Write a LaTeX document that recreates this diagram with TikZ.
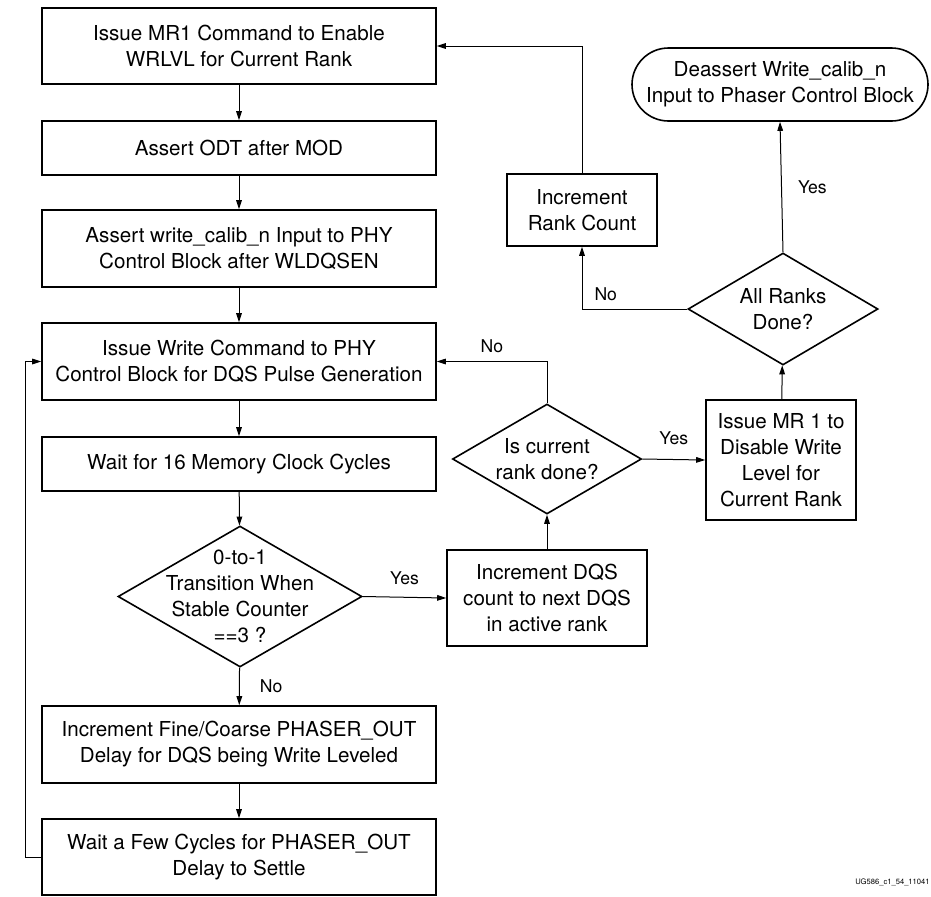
\documentclass[tikz,border=0pt]{standalone}
\usepackage{fontspec}
\setmainfont{TeX Gyre Heros}
\usetikzlibrary{shapes.geometric, arrows.meta}

\begin{document}
\begin{tikzpicture}[x=0.5pt, y=-0.5pt,
    txt/.style={align=center, font=\fontsize{10.3}{13}\selectfont},
    box/.style={draw=black, line width=0.8pt, inner sep=0pt, txt},
    wide/.style={box, minimum width=197pt},
    decision/.style={draw=black, line width=0.8pt, diamond, inner sep=0pt},
    flow/.style={-{Triangle[length=4.5pt, width=2.8pt]}, line width=0.5pt},
    answer/.style={font=\fontsize{8.8}{10}\selectfont, inner sep=2pt}]
    % Units: 1 = one pixel of the 931 x 896 figure, y grows downwards
    \useasboundingbox (0,0) rectangle (931,896);

    % Main column of steps
    \node[wide, minimum height=38pt] (enable) at (239,46) {Issue MR1 Command to Enable\\WRLVL for Current Rank};
    \node[wide, minimum height=27pt] (odt) at (239,148) {Assert ODT after MOD};
    \node[wide, minimum height=38.5pt] (calib) at (239,248.5) {Assert write\_calib\_n Input to PHY\\Control Block after WLDQSEN};
    \node[wide, minimum height=38.5pt] (write) at (239,361.5) {Issue Write Command to PHY\\Control Block for DQS Pulse Generation};
    \node[wide, minimum height=27pt] (wait) at (239,464) {Wait for 16 Memory Clock Cycles};
    \node[decision, minimum width=122pt, minimum height=70.5pt,
          label={[txt]center:{0-to-1\\Transition When\\Stable Counter\\==3 ?}}] (stable) at (240,596.5) {};
    \node[wide, minimum height=38.5pt] (delay) at (239,744.5) {Increment Fine/Coarse PHASER\_OUT\\Delay for DQS being Write Leveled};
    \node[wide, minimum height=38pt] (settle) at (239,857) {Wait a Few Cycles for PHASER\_OUT\\Delay to Settle};

    % Right part: rank and DQS bookkeeping
    \node[box, minimum width=100pt, minimum height=48pt] (nextdqs) at (547,598) {Increment DQS\\count to next DQS\\in active rank};
    \node[decision, minimum width=94.5pt, minimum height=55pt,
          label={[txt]center:{Is current\\rank done?}}] (rankdone) at (547,459) {};
    \node[box, minimum width=75pt, minimum height=60pt] (disable) at (781,460) {Issue MR 1 to\\Disable Write\\Level for\\Current Rank};
    \node[decision, minimum width=95pt, minimum height=56pt,
          label={[txt]center:{All Ranks\\Done?}}] (allranks) at (783,309) {};
    \node[box, minimum width=75pt, minimum height=36pt] (rankcount) at (582,210) {Increment\\Rank Count};
    \node[box, minimum width=148pt, minimum height=36.5pt, rounded corners=18.25pt] (deassert) at (780,84.5) {Deassert Write\_calib\_n\\Input to Phaser Control Block};

    % Figure id
    \node[anchor=east, inner sep=0pt, font=\fontsize{3.8}{4}\selectfont] (figid) at (930,882) {UG586\_c1\_54\_11041};

    % Straight steps
    \draw[flow] (enable) -- (odt);
    \draw[flow] (odt) -- (calib);
    \draw[flow] (calib) -- (write);
    \draw[flow] (write) -- (wait);
    \draw[flow] (wait) -- (stable);
    \draw[flow] (stable) -- (delay) node[answer, midway, right, xshift=8pt] {No};
    \draw[flow] (delay) -- (settle);
    \draw[flow] (settle.west) -- ++(-15.5,0) |- (write.west);

    % Decisions on the right
    \draw[flow] (stable.east) -- (nextdqs.west) node[answer, midway, above, yshift=4pt] {Yes};
    \draw[flow] (nextdqs) -- (rankdone);
    \draw[flow] (rankdone.north) |- (write.east) node[answer, pos=0.75, above, yshift=2pt] {No};
    \draw[flow] (rankdone.east) -- (disable.west) node[answer, midway, above, yshift=5pt] {Yes};
    \draw[flow] (disable) -- (allranks);
    \draw[flow] (allranks.north) -- (deassert.south) node[answer, midway, right, xshift=6pt] {Yes};
    \draw[flow] (allranks.west) -| (rankcount.south) node[answer, pos=0.5, above right, xshift=4pt, yshift=2pt] {No};
    \draw[flow] (rankcount.north) |- (enable.east);
\end{tikzpicture}
\end{document}
